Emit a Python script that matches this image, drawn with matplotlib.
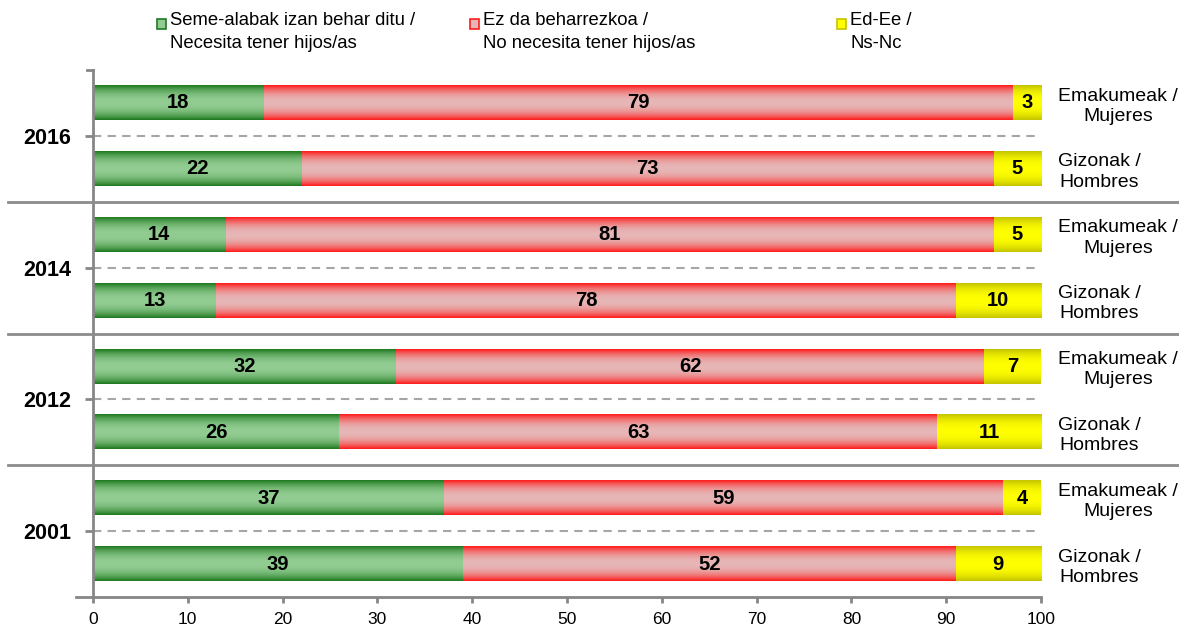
import numpy as np
import matplotlib.pyplot as plt
from matplotlib.patches import Rectangle

plt.rcParams['font.family'] = ['Liberation Sans', 'DejaVu Sans']

# Data (top to bottom)
years = ['2016', '2014', '2012', '2001']
sexes = ['Emakumeak /\nMujeres', 'Gizonak /\nHombres']
need = [18, 22, 14, 13, 32, 26, 37, 39]
no_need = [79, 73, 81, 78, 62, 63, 59, 52]
dk = [3, 5, 5, 10, 7, 11, 4, 9]
series_names = ['Seme-alabak izan behar ditu /\nNecesita tener hijos/as',
                'Ez da beharrezkoa /\nNo necesita tener hijos/as',
                'Ed-Ee /\nNs-Nc']

# edge colour, centre colour for each series
grad = [('#1f7a1f', '#92cc92'), ('#ff1c1c', '#e6b6b6'), ('#c4c400', '#ffff00')]


def gradient_fill(ax, patches, edge, centre):
    n = 64
    t = np.abs(np.linspace(-1, 1, n)) ** 2.2
    e = np.array(plt.matplotlib.colors.to_rgb(edge))
    c = np.array(plt.matplotlib.colors.to_rgb(centre))
    img = (c[None, :] * (1 - t[:, None]) + e[None, :] * t[:, None])[:, None, :]
    for p in patches:
        x0, y0 = p.get_x(), p.get_y()
        w, h = p.get_width(), p.get_height()
        im = ax.imshow(img, extent=(x0, x0 + w, y0 + h, y0), aspect='auto',
                       interpolation='bilinear', zorder=2)
        im.set_clip_path(p)
        im.set_clip_box(ax.bbox)
        p.set_facecolor('none')


fig = plt.figure(figsize=(11.79, 6.25), dpi=100)
ax = fig.add_axes([93 / 1179, 1 - 597 / 625, (1041 - 93) / 1179, (597 - 70) / 625])

rows = np.arange(len(need))
h = 0.52
left = np.zeros(len(need))
for vals, (edge, centre) in zip([need, no_need, dk], grad):
    bars = ax.barh(rows, vals, left=left, height=h, linewidth=0, zorder=2)
    gradient_fill(ax, bars, edge, centre)
    for r, v, l in zip(rows, vals, left):
        xc = (l + min(l + v, 100)) / 2
        ax.text(xc, r, str(v), ha='center', va='center',
                fontsize=14.5, fontweight='bold', zorder=4)
    left = left + np.array(vals)

ax.set_xlim(0, 100)
ax.set_ylim(7.5, -0.5)

# spines and ticks
for s in ['top', 'right']:
    ax.spines[s].set_visible(False)
for s in ['left', 'bottom']:
    ax.spines[s].set_color('#868686')
    ax.spines[s].set_linewidth(2)
ax.set_xticks(np.arange(0, 101, 10))
ax.tick_params(axis='x', length=4, width=2, color='#868686', labelsize=12.5, pad=7)
ax.set_yticks([0.5, 2.5, 4.5, 6.5])
ax.set_yticklabels(years, fontsize=15.5, fontweight='bold')
ax.tick_params(axis='y', length=6, width=2, color='#868686', pad=10)

# dashed lines between the two rows of each year
for yc in [0.5, 2.5, 4.5, 6.5]:
    ax.plot([0, 99.4], [yc, yc], ls=(0, (4, 3)), color='#a6a6a6', lw=1.5, zorder=1)

# solid separators between years
fig_left = 8 / 1179
for yb in [1.5, 3.5, 5.5]:
    y_fig = fig.transFigure.inverted().transform(ax.transData.transform((0, yb)))[1]
    fig.add_artist(plt.Line2D([fig_left, 1.0], [y_fig, y_fig], color='#8c8c8c', lw=2))
# small ticks at top and bottom of the category axis
for yb, ln in [(-0.5, 6 / 1179), (7.5, 17 / 1179)]:
    y_fig = fig.transFigure.inverted().transform(ax.transData.transform((0, yb)))[1]
    fig.add_artist(plt.Line2D([93 / 1179 - ln, 93 / 1179], [y_fig, y_fig], color='#868686', lw=2))

# right-side labels
for r in rows:
    ax.text(1.0 + 17 / 948, r + 0.05, sexes[r % 2], transform=ax.get_yaxis_transform(),
            ha='left', va='center', multialignment='center', fontsize=14,
            linespacing=1.25)

# legend
leg_x = [157, 470, 837]
for (edge, centre), name, x in zip(grad, series_names, leg_x):
    fig.add_artist(Rectangle((x / 1179, 1 - 29 / 625), 9 / 1179, 10 / 625,
                             facecolor=centre, edgecolor=edge, lw=1.2,
                             transform=fig.transFigure))
    fig.text((x + 13) / 1179, 1 - 12 / 625, name, ha='left', va='top',
             fontsize=13.3, linespacing=1.5)

fig.savefig('out.png', dpi=100)
